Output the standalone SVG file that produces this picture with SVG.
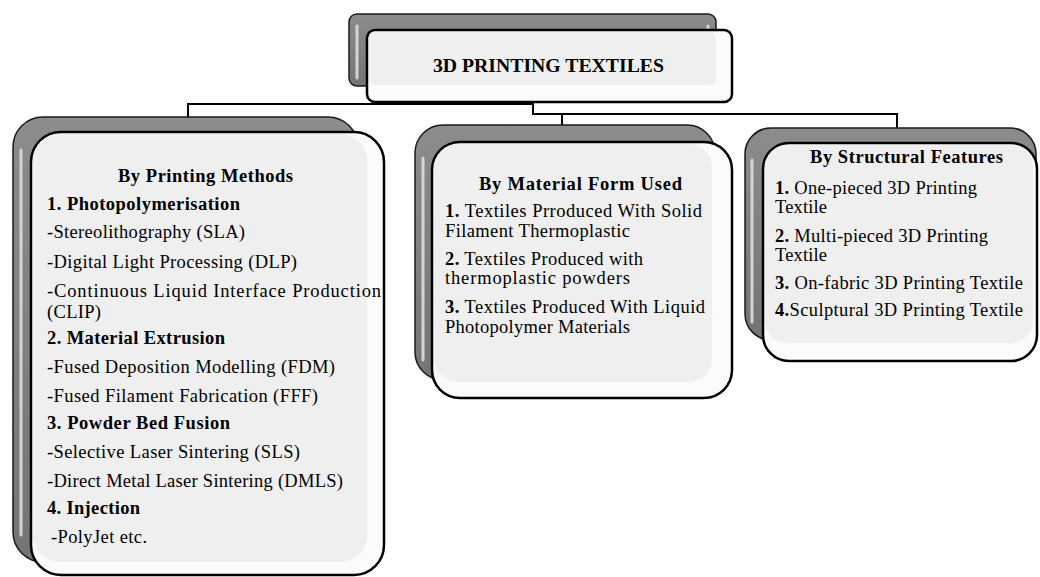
<svg xmlns="http://www.w3.org/2000/svg" width="1040" height="577" viewBox="0 0 1040 577">
<defs>
<linearGradient id="gb" x1="0" y1="0" x2="0" y2="1">
<stop offset="0" stop-color="#8c8c8c"/>
<stop offset="1" stop-color="#747474"/>
</linearGradient>
<style>
.back{fill:url(#gb);stroke:#1a1a1a;stroke-width:1.5}
.front{fill:#fbfbfb;stroke:#000;stroke-width:2.5}
.panel{fill:#efefef;stroke:none}
.hl{fill:none;stroke:#d4d4d4;stroke-width:3;stroke-linecap:round}
.t{font-family:'Liberation Serif','Times New Roman','DejaVu Serif',serif;font-size:18.5px;fill:#000}
.b{font-weight:bold}
.c{text-anchor:middle}
.conn{fill:none;stroke:#000;stroke-width:2}
</style>
</defs>
<rect width="1040" height="577" fill="#ffffff"/>
<g id="connectors">
<path class="conn" d="M533,100 V104 H188 V118"/>
<path class="conn" d="M533,100 V114 H562 V126"/>
<path class="conn" d="M562,114 H897 V129"/>
</g>
<g id="root">
<rect class="back" x="349" y="14" width="367" height="72" rx="8"/>
<path class="hl" d="M357,26 V78"/>
<path class="hl" d="M708,26 V78"/>
<rect class="front" x="367" y="30" width="365" height="72" rx="8"/>
<rect class="panel" x="369" y="32" width="347" height="53" rx="6"/>
<text class="t b c" font-family="Liberation Serif, serif" x="548.5" y="72" font-size="19" textLength="231" lengthAdjust="spacingAndGlyphs">3D PRINTING TEXTILES</text>
</g>
<g id="printing-methods" font-family="Liberation Serif, serif">
<rect class="back" x="13" y="117" width="345" height="445" rx="30"/>
<path class="hl" d="M21,150 V535"/>
<rect class="front" x="31" y="132" width="353" height="443" rx="30"/>
<rect class="panel" x="33" y="134" width="334" height="428" rx="26"/>
<text class="t b c" x="205.5" y="182" textLength="175">By Printing Methods</text>
<text class="t b" x="47" y="210" textLength="193">1. Photopolymerisation</text>
<text class="t" x="47" y="238" textLength="198">-Stereolithography (SLA)</text>
<text class="t" x="47" y="268" textLength="250">-Digital Light Processing (DLP)</text>
<text class="t" x="47" y="297" textLength="334">-Continuous Liquid Interface Production</text>
<text class="t" x="47" y="318" textLength="54">(CLIP)</text>
<text class="t b" x="47" y="344" textLength="178">2. Material Extrusion</text>
<text class="t" x="47" y="373" textLength="288">-Fused Deposition Modelling (FDM)</text>
<text class="t" x="47" y="402" textLength="271">-Fused Filament Fabrication (FFF)</text>
<text class="t b" x="47" y="429" textLength="183">3. Powder Bed Fusion</text>
<text class="t" x="47" y="458" textLength="253">-Selective Laser Sintering (SLS)</text>
<text class="t" x="47" y="487" textLength="296">-Direct Metal Laser Sintering (DMLS)</text>
<text class="t b" x="47" y="514" textLength="93">4. Injection</text>
<text class="t" x="51" y="543" textLength="96">-PolyJet etc.</text>
</g>
<g id="material-form" font-family="Liberation Serif, serif">
<rect class="back" x="415" y="125" width="300" height="255" rx="28"/>
<path class="hl" d="M423,158 V360"/>
<rect class="front" x="432" y="142" width="300" height="256" rx="28"/>
<rect class="panel" x="434" y="144" width="278" height="238" rx="24"/>
<text class="t b c" x="580.5" y="190" textLength="203">By Material Form Used</text>
<text class="t" x="445" y="217" textLength="257"><tspan class="b">1.</tspan> Textiles Prroduced With Solid</text>
<text class="t" x="445" y="237" textLength="185">Filament Thermoplastic</text>
<text class="t" x="445" y="265" textLength="198"><tspan class="b">2.</tspan> Textiles Produced with</text>
<text class="t" x="445" y="284" textLength="185">thermoplastic powders</text>
<text class="t" x="445" y="313" textLength="260"><tspan class="b">3.</tspan> Textiles Produced With Liquid</text>
<text class="t" x="445" y="333" textLength="185">Photopolymer Materials</text>
</g>
<g id="structural-features" font-family="Liberation Serif, serif">
<rect class="back" x="745" y="128" width="291" height="212" rx="26"/>
<path class="hl" d="M752,160 V322"/>
<rect class="front" x="763" y="143" width="274" height="218" rx="26"/>
<rect class="panel" x="765" y="145" width="268" height="198" rx="22"/>
<text class="t b c" x="906.5" y="163" textLength="193">By Structural Features</text>
<text class="t" x="775" y="194" textLength="202"><tspan class="b">1.</tspan> One-pieced 3D Printing</text>
<text class="t" x="775" y="213" textLength="52">Textile</text>
<text class="t" x="775" y="242" textLength="213"><tspan class="b">2.</tspan> Multi-pieced 3D Printing</text>
<text class="t" x="775" y="261" textLength="52">Textile</text>
<text class="t" x="775" y="289" textLength="248"><tspan class="b">3.</tspan> On-fabric 3D Printing Textile</text>
<text class="t" x="775" y="316" textLength="248"><tspan class="b">4.</tspan>Sculptural 3D Printing Textile</text>
</g>
</svg>
